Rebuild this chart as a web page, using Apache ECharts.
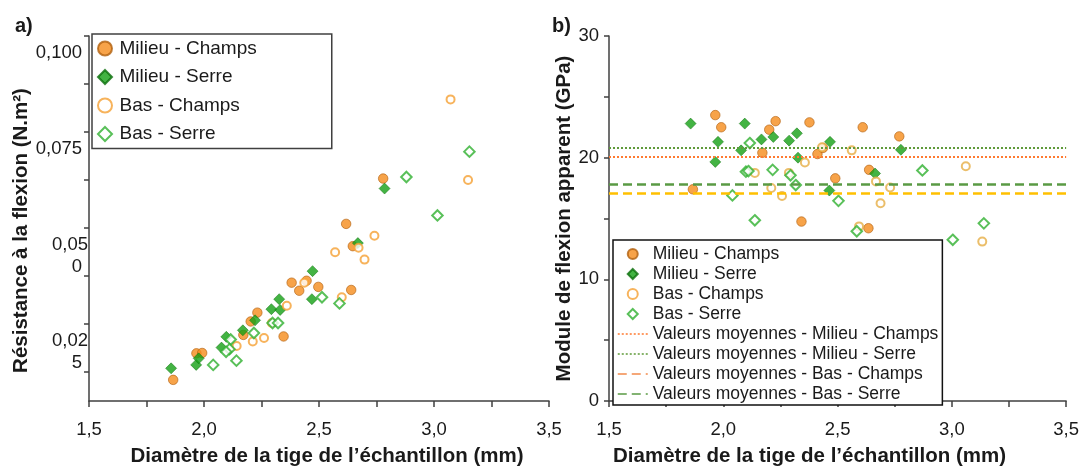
<!DOCTYPE html>
<html>
<head>
<meta charset="utf-8">
<script src="https://cdn.jsdelivr.net/npm/echarts@6/dist/echarts.min.js"></script>
<style>
html,body{margin:0;padding:0;background:#fff;}
#chart{width:1082px;height:472px;}
</style>
</head>
<body>
<div id="chart"></div>
<script>
// ---- data ----
const xTickLabels = ['1,5', '2,0', '2,5', '3,0', '3,5'];
const yTickValuesA = [0.025, 0.05, 0.075, 0.1];
const yTickLabelsA = ['0,02\n5', '0,05\n0', '0,075', '0,100'];
const yTickPositionsA = [0.0125, 0.025, 0.0375, 0.05, 0.0625, 0.075, 0.0875, 0.1];
const yTickLabelsB = ['0', '10', '20', '30'];

const seriesNames = ['Milieu - Champs', 'Milieu - Serre', 'Bas - Champs', 'Bas - Serre'];
const meanNames = ['Valeurs moyennes - Milieu - Champs', 'Valeurs moyennes - Milieu - Serre',
                   'Valeurs moyennes - Bas - Champs', 'Valeurs moyennes - Bas - Serre'];
const meanValues = [20.1, 20.8, 17.05, 17.8];

// panel a : diameter (mm), flexural resistance (N.m²)
const aMilieuChamps = [[1.866,0.0105],[1.967,0.0174],[1.992,0.0175],[2.171,0.0222],[2.203,0.0257],[2.232,0.0280],[2.346,0.0218],[2.381,0.0358],[2.414,0.0337],[2.446,0.0363],[2.497,0.0347],[2.640,0.0339],[2.618,0.0511],[2.647,0.0453],[2.779,0.0629]];
const aMilieuSerre = [[1.857,0.0135],[1.966,0.0144],[1.977,0.0161],[2.076,0.0189],[2.097,0.0217],[2.169,0.0234],[2.222,0.0260],[2.293,0.0289],[2.327,0.0315],[2.331,0.0287],[2.472,0.0388],[2.469,0.0315],[2.669,0.0461],[2.785,0.0603]];
const aBasChamps = [[2.142,0.0193],[2.212,0.0205],[2.261,0.0214],[2.295,0.0253],[2.360,0.0298],[2.436,0.0358],[2.570,0.0437],[2.672,0.0449],[2.741,0.0480],[2.698,0.0418],[2.599,0.0320],[3.072,0.0835],[3.148,0.0625]];
const aBasSerre = [[2.040,0.0144],[2.141,0.0155],[2.116,0.0210],[2.111,0.0185],[2.096,0.0178],[2.217,0.0227],[2.298,0.0253],[2.322,0.0253],[2.513,0.0320],[2.589,0.0304],[2.880,0.0633],[3.154,0.0699],[3.015,0.0533]];

// panel b : diameter (mm), apparent flexural modulus (GPa)
const bMilieuChamps = [[1.965,23.5],[1.991,22.5],[1.867,17.4],[2.171,20.4],[2.201,22.3],[2.229,23.0],[2.377,22.9],[2.412,20.3],[2.436,20.8],[2.342,14.75],[2.490,18.3],[2.610,22.5],[2.638,19.0],[2.635,14.2],[2.770,21.75]];
const bMilieuSerre = [[1.857,22.8],[1.977,21.3],[1.965,19.65],[2.094,22.8],[2.078,20.6],[2.167,21.5],[2.219,21.7],[2.288,21.4],[2.322,22.0],[2.327,20.0],[2.467,21.3],[2.464,17.3],[2.664,18.7],[2.777,20.65]];
const bBasChamps = [[2.138,18.75],[2.210,17.5],[2.257,16.85],[2.287,18.75],[2.357,19.6],[2.432,20.85],[2.562,20.6],[2.668,18.05],[2.730,17.55],[2.688,16.25],[2.594,14.35],[3.061,19.3],[3.133,13.1]];
const bBasSerre = [[2.116,21.2],[2.099,18.85],[2.110,18.9],[2.040,16.9],[2.138,14.85],[2.216,19.0],[2.294,18.55],[2.317,17.75],[2.504,16.45],[2.584,13.95],[2.871,18.95],[3.140,14.6],[3.004,13.25]];

// ---- styles ----
const FONT = "'Liberation Sans', Arial, sans-serif";
const TXT = '#1a1a1a';
const AX = '#404040';
const DIAMOND = 'path://M0,-10L10,0L0,10L-10,0Z';
const styles = [
  {symbol:'circle', symbolSize:9.5, itemStyle:{color:'#f58c1c', borderColor:'#b0600f', borderWidth:0.8}},
  {symbol:'diamond', symbolSize:11, itemStyle:{color:'#14a014', borderColor:'#0c6e0c', borderWidth:0.6}},
  {symbol:'circle', symbolSize:8, itemStyle:{color:'#ffffff', borderColor:'#f5a033', borderWidth:2}},
  {symbol:'diamond', symbolSize:10.5, itemStyle:{color:'#ffffff', borderColor:'#2fb02f', borderWidth:2}}
];
const stylesB2 = {color:'#ffffff', borderColor:'#e6ae45', borderWidth:2};
const meanStyles = [
  {color:'#ff7a30', width:2, type:[2,2]},
  {color:'#5f9a3a', width:2, type:[2,2]},
  {color:'#ffc000', width:2.5, type:[9,5]},
  {color:'#5a9a44', width:2.5, type:[9,5]}
];
const meanLegendColors = ['#ff7a30', '#5f9a3a', '#f28a4c', '#5a9a44'];
const hiddenIcon = {color:'rgba(0,0,0,0)', borderColor:'rgba(0,0,0,0)', borderWidth:0, opacity:0};

function xLabel(v){
  const k = Math.round((v - 1.5) / 0.5);
  if (Math.abs((v - 1.5) / 0.5 - k) > 1e-6) return '';
  return xTickLabels[k] || '';
}
function xAxisCfg(grid, pad){
  return {
    gridIndex: grid, type:'value', min:1.5, max:3.5, interval:0.25,
    name:'Diamètre de la tige de l’échantillon (mm)', nameLocation:'middle', nameGap:45,
    nameTextStyle:{fontFamily:FONT, fontSize:20.5, fontWeight:'bold', color:TXT, padding:pad},
    axisLine:{lineStyle:{color:AX, width:1.5}},
    axisTick:{length:6, lineStyle:{color:AX, width:1.5}},
    axisLabel:{margin:19, fontFamily:FONT, fontSize:18.5, color:TXT, formatter:xLabel},
    splitLine:{show:false}
  };
}
function scatterLegendItems(){
  return seriesNames.map((n, i) => (styles[i].symbol === 'diamond' ? {name:n, icon:DIAMOND} : {name:n}));
}

const series = [];
const aData = [aMilieuChamps, aMilieuSerre, aBasChamps, aBasSerre];
const bData = [bMilieuChamps, bMilieuSerre, bBasChamps, bBasSerre];
// mean lines (panel b)
meanNames.forEach((n, i) => {
  series.push({
    name:n, type:'line', xAxisIndex:1, yAxisIndex:1, data:[], symbol:'none', z:1,
    itemStyle:{color:meanStyles[i].color},
    lineStyle:meanStyles[i],
    markLine:{symbol:'none', silent:true, label:{show:false}, lineStyle:meanStyles[i],
              data:[{yAxis: meanValues[i]}]}
  });
});
seriesNames.forEach((n, i) => {
  series.push(Object.assign({name:n, type:'scatter', xAxisIndex:0, yAxisIndex:0, data:aData[i], z:3}, styles[i]));
});
seriesNames.forEach((n, i) => {
  const s = Object.assign({name:n, type:'scatter', xAxisIndex:1, yAxisIndex:1, data:bData[i], z:3}, styles[i]);
  if (i === 2) s.itemStyle = stylesB2;
  series.push(s);
});

const option = {
  animation:false,
  backgroundColor:'#ffffff',
  textStyle:{fontFamily:FONT},
  grid:[
    {left:89, top:36, width:460, height:368},
    {left:609, top:36, width:460, height:367}
  ],
  xAxis:[ xAxisCfg(0, [0,0,0,16]), xAxisCfg(1, [0,56,0,0]) ],
  yAxis:[
    {
      gridIndex:0, type:'value', min:0.005, max:0.1,
      name:'Résistance à la flexion (N.m²)', nameLocation:'middle', nameGap:55,
      nameTextStyle:{fontFamily:FONT, fontSize:20.5, fontWeight:'bold', color:TXT, padding:[0,24,0,0]},
      axisLine:{show:true, lineStyle:{color:AX, width:1.5}},
      axisTick:{show:true, length:5, customValues:yTickPositionsA, lineStyle:{color:AX, width:1.5}},
      axisLabel:{
        customValues:yTickValuesA, margin:1, verticalAlign:'top', padding:[6,0,0,0],
        fontFamily:FONT, fontSize:18.5, lineHeight:22, color:TXT,
        formatter:function(v){
          const k = Math.round(v / 0.025) - 1;
          const lines = (yTickLabelsA[k] || '').split('\n');
          if (lines.length > 1) return '{a|' + lines[0] + '}\n{b|' + lines[1] + '}';
          return '{b|' + lines[0] + '}';
        },
        rich:{
          a:{fontFamily:FONT, fontSize:18.5, lineHeight:22, color:TXT},
          b:{fontFamily:FONT, fontSize:18.5, lineHeight:22, color:TXT, padding:[0,6,0,0]}
        }
      },
      splitLine:{show:false}
    },
    {
      gridIndex:1, type:'value', min:0, max:30, interval:5,
      name:'Module de flexion apparent (GPa)', nameLocation:'middle', nameGap:32,
      nameTextStyle:{fontFamily:FONT, fontSize:20.5, fontWeight:'bold', color:TXT},
      axisLine:{show:true, lineStyle:{color:AX, width:1.5}},
      axisTick:{show:true, length:5, lineStyle:{color:AX, width:1.5}},
      axisLabel:{margin:10, fontFamily:FONT, fontSize:18.5, color:TXT,
        formatter:function(v){ return (v % 10 === 0) ? (yTickLabelsB[v/10] || '') : ''; }},
      splitLine:{show:false}
    }
  ],
  legend:[
    {
      orient:'vertical', left:92, top:34, padding:[5,75,5,5], itemGap:9.5,
      itemWidth:19, itemHeight:14, borderColor:AX, borderWidth:1.5, backgroundColor:'#fff',
      selectedMode:false, symbolKeepAspect:true,
      textStyle:{fontFamily:FONT, fontSize:19, lineHeight:19, color:TXT},
      data:scatterLegendItems()
    },
    {
      orient:'vertical', left:613, top:240, padding:[4,4,1,4], itemGap:0,
      itemWidth:30, itemHeight:10, borderColor:'#111', borderWidth:1.5, backgroundColor:'#fff',
      selectedMode:false, symbolKeepAspect:true,
      textStyle:{fontFamily:FONT, fontSize:17.5, lineHeight:20, color:TXT},
      data:scatterLegendItems().concat(meanNames.map((n, i) => ({
        name:n, lineStyle:{color:meanLegendColors[i], width:1.5}, itemStyle:hiddenIcon
      })))
    }
  ],
  graphic:[
    {type:'text', left:15, top:16, style:{text:'a)', font:'bold 20px ' + FONT, fill:TXT}},
    {type:'text', left:552, top:16, style:{text:'b)', font:'bold 20px ' + FONT, fill:TXT}}
  ],
  series:series
};

const chart = echarts.init(document.getElementById('chart'), null, {renderer:'canvas'});
chart.setOption(option);
</script>
</body>
</html>
